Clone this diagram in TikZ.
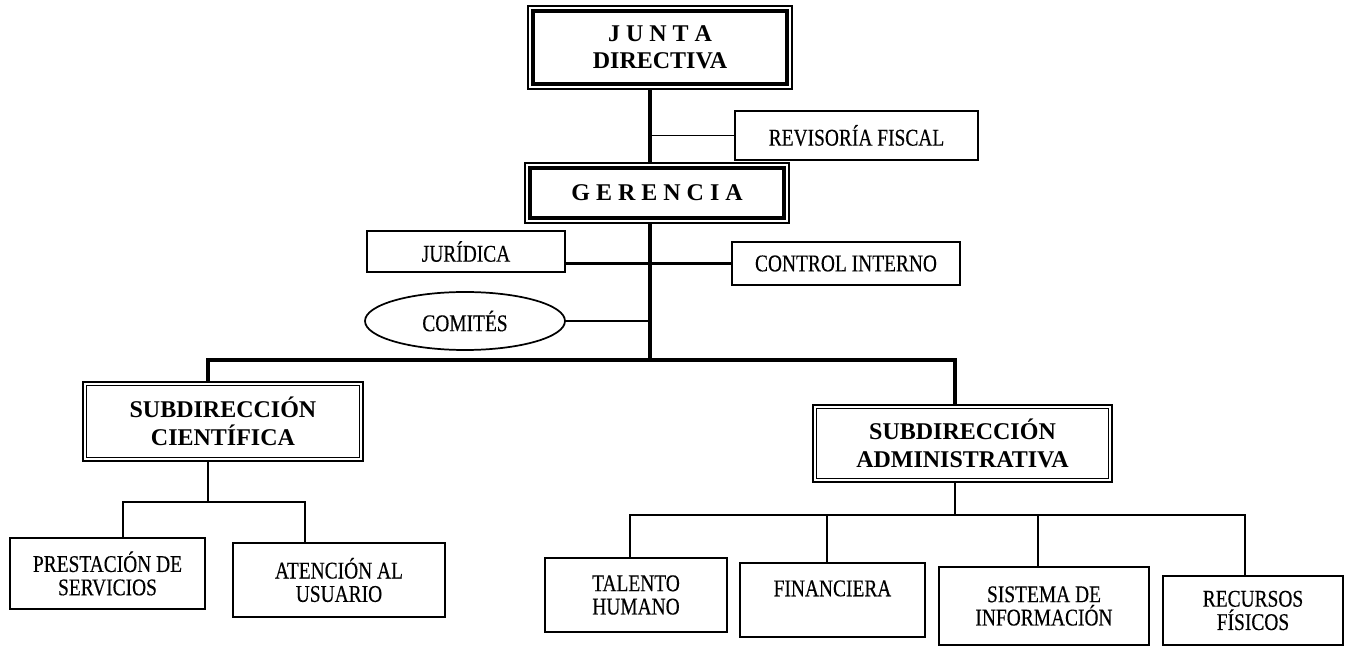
\documentclass[tikz,border=0pt]{standalone}
\usepackage{fontspec}
\setmainfont{Liberation Serif}
\newfontfamily\condfont[FakeStretch=0.81,FakeBold=0.3]{Liberation Serif}
\usetikzlibrary{shapes.geometric}
\tikzset{
  sz/.style 2 args={minimum width={#1*0.75pt},minimum height={#2*0.75pt}},
  lbl/.style={inner sep=0pt, align=center, font=\condfont\fontsize{18}{17.5}\selectfont},
  unitbox/.style={lbl, draw, line width=1.3pt},
  unitoval/.style={lbl, draw, ellipse, line width=1.3pt},
  majorbox/.style={draw, line width=1.1pt, inner sep=0pt, align=center,
    font=\bfseries\fontsize{18}{20}\selectfont,
    append after command={\pgfextra{\draw[line width=3pt]
      ([shift={(4.5pt,-4.5pt)}]\tikzlastnode.north west) rectangle
      ([shift={(-4.5pt,4.5pt)}]\tikzlastnode.south east);}}},
  subbox/.style={draw, line width=1.8pt, inner sep=0pt, align=center,
    font=\bfseries\fontsize{18}{21}\selectfont,
    append after command={\pgfextra{\draw[line width=0.8pt]
      ([shift={(3.8pt,-3.8pt)}]\tikzlastnode.north west) rectangle
      ([shift={(-3.8pt,3.8pt)}]\tikzlastnode.south east);}}},
  trunk/.style={line width=2.3pt},
  conn/.style={line width=1.6pt},
  link/.style={line width=1.1pt},
}
\begin{document}
\begin{tikzpicture}[x=0.75pt,y=-0.75pt]
\useasboundingbox (0,0) rectangle (1346,648);
\fill[white] (0,0) rectangle (1346,648);

% nodes
\node[majorbox, sz={264}{83}] (junta) at (660,47.5) {J U N T A\\DIRECTIVA};
\node[unitbox, sz={243}{49}] (rev) at (856.5,135.5) {REVISORÍA FISCAL};
\node[majorbox, sz={264}{60}] (ger) at (657,193) {G E R E N C I A};
\node[unitbox, sz={198}{41}] (jur) at (466,251.5) {JURÍDICA};
\node[unitbox, sz={228}{43}] (ctrl) at (846,263.5) {CONTROL INTERNO};
\node[unitoval, sz={200}{58}] (com) at (465,321) {COMITÉS};
\node[subbox, sz={280}{79}] (subc) at (223,421.5) {SUBDIRECCIÓN\\CIENTÍFICA};
\node[subbox, sz={299}{77}] (suba) at (962.5,443.5) {SUBDIRECCIÓN\\ADMINISTRATIVA};
\node[unitbox, sz={195}{71}] (pres) at (107.5,573.5) {PRESTACIÓN DE\\SERVICIOS};
\node[unitbox, sz={212}{74}] (aten) at (339,580) {ATENCIÓN AL\\USUARIO};
\node[unitbox, sz={182}{74}] (tal) at (636,595) {TALENTO\\HUMANO};
\node[unitbox, sz={185}{74}] (fin) at (832.5,600) {FINANCIERA\\\mbox{}};
\node[unitbox, sz={210}{78}] (sis) at (1044,606) {SISTEMA DE\\INFORMACIÓN};
\node[unitbox, sz={180}{69}] (rec) at (1253,610.5) {RECURSOS\\FÍSICOS};

% junction points
\coordinate (t1) at (650,360);
\coordinate (bL) at (208,360);
\coordinate (bR) at (955,360);
\coordinate (sL) at (208,502);
\coordinate (pL) at (123,502);
\coordinate (aL) at (305,502);
\coordinate (sR) at (955,515);
\coordinate (q1) at (630,515);
\coordinate (q2) at (827,515);
\coordinate (q3) at (1038,515);
\coordinate (q4) at (1245,515);

% connectors
\draw[trunk] (junta.south -| t1) -- (ger.north -| t1);
\draw[link] (rev.west) -- (rev.west -| t1);
\draw[trunk] (ger.south -| t1) -- (t1);
\draw[conn] (ctrl.west) -- (ctrl.west -| jur.east);
\draw[conn] (com.east) -- (com.east -| t1);
\draw[trunk] (subc.north -| bL) -- (bL) -- (bR) -- (suba.north -| bR);
\draw[conn] (subc.south -| sL) -- (sL);
\draw[conn] (pres.north -| pL) -- (pL) -- (aL) -- (aten.north -| aL);
\draw[conn] (suba.south -| sR) -- (sR);
\draw[conn] (tal.north -| q1) -- (q1) -- (q4) -- (rec.north -| q4);
\draw[conn] (fin.north -| q2) -- (q2);
\draw[conn] (sis.north -| q3) -- (q3);
\end{tikzpicture}
\end{document}
